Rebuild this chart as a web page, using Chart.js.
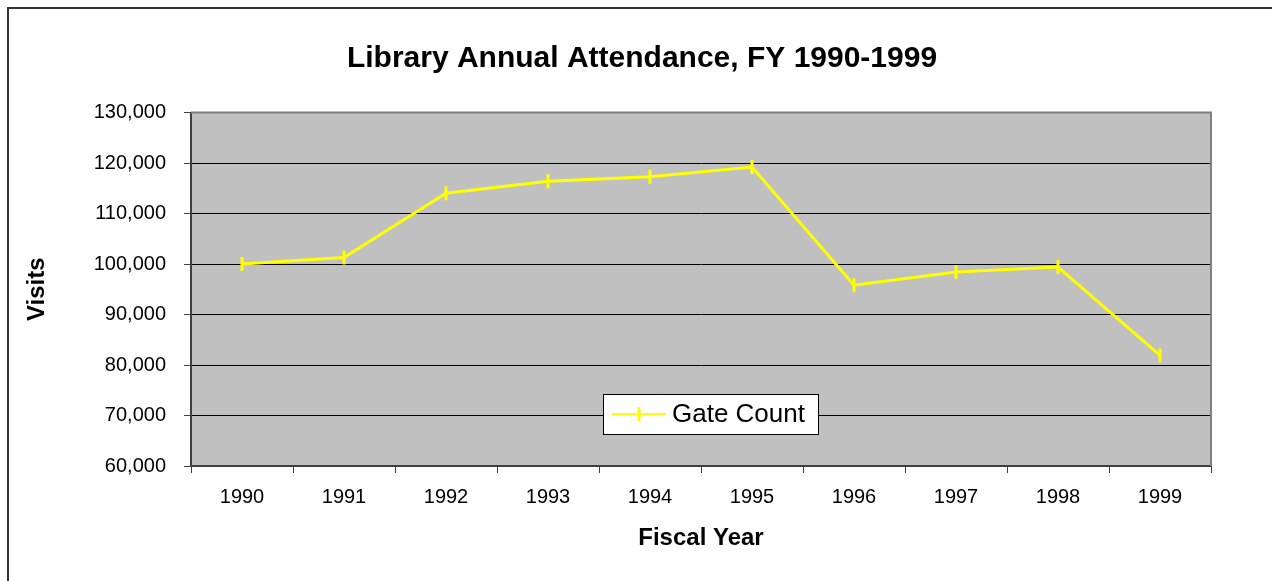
<!DOCTYPE html>
<html>
<head>
<meta charset="utf-8">
<script src="https://cdn.jsdelivr.net/npm/chart.js@4"></script>
<style>
  html, body { margin: 0; padding: 0; background: #fff; }
</style>
</head>
<body>
<canvas id="myChart" width="1272" height="581"></canvas>
<script>
// data
var years = ['1990', '1991', '1992', '1993', '1994', '1995', '1996', '1997', '1998', '1999'];
var gateCount = [100000, 101300, 114000, 116400, 117300, 119200, 95800, 98400, 99400, 81900];
var seriesName = 'Gate Count';
var yMin = 60000;
var yMax = 130000;
var yStep = 10000;

// frame, grey plot background and plot border
var backdrop = {
    id: 'backdrop',
    beforeDraw: function(chart) {
        var ctx = chart.ctx;
        var a = chart.chartArea;
        ctx.save();
        ctx.fillStyle = '#fff';
        ctx.fillRect(0, 0, chart.width, chart.height);
        ctx.strokeStyle = '#333';
        ctx.lineWidth = 2;
        ctx.strokeRect(8, 8, chart.width + 20, chart.height + 20);
        ctx.fillStyle = '#c0c0c0';
        ctx.fillRect(a.left, a.top, a.right - a.left, a.bottom - a.top);
        ctx.restore();
    },
    beforeDatasetsDraw: function(chart) {
        var ctx = chart.ctx;
        var a = chart.chartArea;
        ctx.save();
        ctx.strokeStyle = '#808080';
        ctx.lineWidth = 2;
        ctx.beginPath();
        ctx.moveTo(a.left, a.top);
        ctx.lineTo(a.right, a.top);
        ctx.lineTo(a.right, a.bottom);
        ctx.stroke();
        ctx.restore();
    }
};

// legend box sitting inside the plot
var boxLegend = {
    id: 'boxLegend',
    afterDraw: function(chart) {
        var ctx = chart.ctx;
        var ds = chart.data.datasets[0];
        var x = 603, y = 394, w = 215, h = 40;
        var my = y + h / 2;
        ctx.save();
        ctx.fillStyle = '#fff';
        ctx.fillRect(x, y, w, h);
        ctx.strokeStyle = '#000';
        ctx.lineWidth = 1;
        ctx.strokeRect(x + 0.5, y + 0.5, w, h);
        ctx.strokeStyle = ds.borderColor;
        ctx.lineWidth = 2;
        ctx.beginPath();
        ctx.moveTo(x + 9, my);
        ctx.lineTo(x + 63, my);
        ctx.stroke();
        ctx.lineWidth = 3;
        ctx.beginPath();
        ctx.moveTo(x + 36, my - 7);
        ctx.lineTo(x + 36, my + 7);
        ctx.stroke();
        ctx.fillStyle = '#000';
        ctx.font = '26px "Liberation Sans", Arial, sans-serif';
        ctx.textBaseline = 'middle';
        ctx.fillText(ds.label, x + 69, my + 1);
        ctx.restore();
    }
};

window.addEventListener('load', function() {
    var ctx = document.getElementById('myChart').getContext('2d');
    var chart = new Chart(ctx, {
        type: 'line',
        data: {
            labels: years,
            datasets: [{
                label: seriesName,
                data: gateCount,
                borderColor: '#ffff00',
                backgroundColor: '#ffff00',
                borderWidth: 3,
                pointStyle: 'line',
                rotation: 90,
                pointRadius: 7,
                pointBorderWidth: 3,
                pointHoverRadius: 7,
                tension: 0,
                fill: false
            }]
        },
        options: {
            responsive: false,
            animation: false,
            events: [],
            layout: { padding: { left: 12, right: 0, top: 0, bottom: 0 } },
            plugins: {
                legend: { display: false },
                tooltip: { enabled: false },
                title: {
                    display: true,
                    text: 'Library Annual Attendance, FY 1990-1999',
                    color: '#000',
                    font: { family: '"Liberation Sans", Arial, sans-serif', size: 30, weight: 'bold' },
                    padding: { top: 41, bottom: 35.5 }
                }
            },
            scales: {
                x: {
                    type: 'category',
                    offset: true,
                    grid: {
                        offset: true,
                        drawOnChartArea: false,
                        drawTicks: true,
                        tickLength: 7,
                        tickColor: '#404040',
                        tickWidth: 1
                    },
                    border: { display: true, color: '#404040', width: 2 },
                    ticks: {
                        color: '#000',
                        font: { family: '"Liberation Sans", Arial, sans-serif', size: 20 },
                        padding: 12,
                        maxRotation: 0,
                        autoSkip: false
                    },
                    title: {
                        display: true,
                        text: 'Fiscal Year',
                        color: '#000',
                        font: { family: '"Liberation Sans", Arial, sans-serif', size: 24, weight: 'bold' },
                        padding: { top: 0, bottom: 28 }
                    },
                    afterFit: function(scale) { scale.height = 115; }
                },
                y: {
                    min: yMin,
                    max: yMax,
                    grid: {
                        color: '#000',
                        lineWidth: 1,
                        drawTicks: true,
                        tickLength: 7,
                        tickColor: '#404040'
                    },
                    border: { display: true, color: '#404040', width: 2 },
                    ticks: {
                        stepSize: yStep,
                        color: '#000',
                        font: { family: '"Liberation Sans", Arial, sans-serif', size: 20 },
                        padding: 18,
                        callback: function(v) { return v.toLocaleString('en-US'); }
                    },
                    title: {
                        display: true,
                        text: 'Visits',
                        color: '#000',
                        font: { family: '"Liberation Sans", Arial, sans-serif', size: 24, weight: 'bold' },
                        padding: { top: 11, bottom: 0 }
                    },
                    afterFit: function(scale) { scale.width = 179; }
                },
                // empty right margin so the title centres like the original
                spacer: {
                    type: 'linear',
                    position: 'right',
                    display: true,
                    grid: { display: false },
                    border: { display: false },
                    ticks: { display: false },
                    afterFit: function(scale) { scale.width = 61; }
                }
            }
        },
        plugins: [backdrop, boxLegend]
    });
});
</script>
</body>
</html>
